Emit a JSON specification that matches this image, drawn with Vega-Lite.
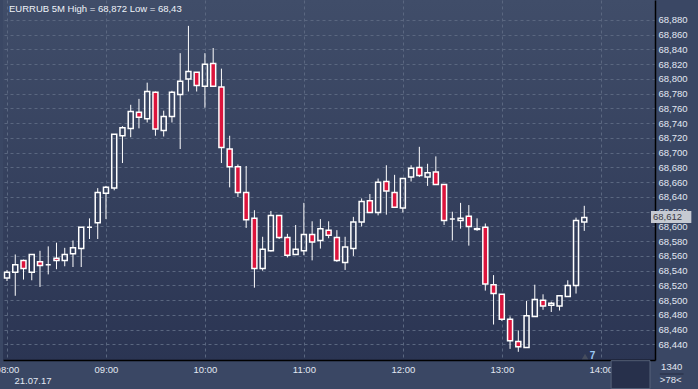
{
  "$schema": "https://vega.github.io/schema/vega-lite/v6.json",
  "width": 652,
  "height": 360,
  "autosize": {"type": "none"},
  "padding": {"left": 3, "top": 0, "right": 43, "bottom": 29},
  "background": "#3a4764",
  "config": {
    "view": {"stroke": null, "fill": {"gradient": "linear", "x1": 0, "y1": 0, "x2": 0, "y2": 1, "stops": [{"offset": 0, "color": "#404d69"}, {"offset": 1, "color": "#2b3553"}]}},
    "font": "Liberation Sans"
  },
  "data": {
    "values": [
      {"t": "08:00", "o": 68.530, "h": 68.541, "l": 68.526, "c": 68.538},
      {"t": "08:05", "o": 68.538, "h": 68.562, "l": 68.506, "c": 68.548},
      {"t": "08:10", "o": 68.554, "h": 68.555, "l": 68.528, "c": 68.543},
      {"t": "08:15", "o": 68.538, "h": 68.562, "l": 68.527, "c": 68.562},
      {"t": "08:20", "o": 68.552, "h": 68.567, "l": 68.518, "c": 68.547},
      {"t": "08:25", "o": 68.548, "h": 68.573, "l": 68.535, "c": 68.548},
      {"t": "08:30", "o": 68.557, "h": 68.578, "l": 68.542, "c": 68.554},
      {"t": "08:35", "o": 68.554, "h": 68.571, "l": 68.546, "c": 68.562},
      {"t": "08:40", "o": 68.563, "h": 68.581, "l": 68.545, "c": 68.571},
      {"t": "08:45", "o": 68.570, "h": 68.599, "l": 68.545, "c": 68.599},
      {"t": "08:50", "o": 68.599, "h": 68.611, "l": 68.583, "c": 68.599},
      {"t": "08:55", "o": 68.605, "h": 68.652, "l": 68.583, "c": 68.646},
      {"t": "09:00", "o": 68.645, "h": 68.655, "l": 68.610, "c": 68.653},
      {"t": "09:05", "o": 68.652, "h": 68.725, "l": 68.649, "c": 68.725},
      {"t": "09:10", "o": 68.723, "h": 68.736, "l": 68.686, "c": 68.734},
      {"t": "09:15", "o": 68.733, "h": 68.765, "l": 68.721, "c": 68.756},
      {"t": "09:20", "o": 68.755, "h": 68.773, "l": 68.733, "c": 68.748},
      {"t": "09:25", "o": 68.746, "h": 68.795, "l": 68.741, "c": 68.783},
      {"t": "09:30", "o": 68.782, "h": 68.783, "l": 68.723, "c": 68.732},
      {"t": "09:35", "o": 68.730, "h": 68.757, "l": 68.722, "c": 68.749},
      {"t": "09:40", "o": 68.749, "h": 68.784, "l": 68.741, "c": 68.782},
      {"t": "09:45", "o": 68.779, "h": 68.835, "l": 68.705, "c": 68.797},
      {"t": "09:50", "o": 68.800, "h": 68.872, "l": 68.783, "c": 68.810},
      {"t": "09:55", "o": 68.809, "h": 68.809, "l": 68.783, "c": 68.791},
      {"t": "10:00", "o": 68.790, "h": 68.835, "l": 68.761, "c": 68.820},
      {"t": "10:05", "o": 68.821, "h": 68.842, "l": 68.790, "c": 68.790},
      {"t": "10:10", "o": 68.789, "h": 68.814, "l": 68.686, "c": 68.707},
      {"t": "10:15", "o": 68.705, "h": 68.723, "l": 68.653, "c": 68.681},
      {"t": "10:20", "o": 68.681, "h": 68.684, "l": 68.640, "c": 68.646},
      {"t": "10:25", "o": 68.646, "h": 68.682, "l": 68.598, "c": 68.609},
      {"t": "10:30", "o": 68.611, "h": 68.622, "l": 68.517, "c": 68.543},
      {"t": "10:35", "o": 68.543, "h": 68.586, "l": 68.540, "c": 68.569},
      {"t": "10:40", "o": 68.567, "h": 68.621, "l": 68.566, "c": 68.615},
      {"t": "10:45", "o": 68.615, "h": 68.615, "l": 68.583, "c": 68.585},
      {"t": "10:50", "o": 68.585, "h": 68.590, "l": 68.558, "c": 68.561},
      {"t": "10:55", "o": 68.562, "h": 68.602, "l": 68.562, "c": 68.569},
      {"t": "11:00", "o": 68.567, "h": 68.632, "l": 68.561, "c": 68.589},
      {"t": "11:05", "o": 68.589, "h": 68.607, "l": 68.554, "c": 68.579},
      {"t": "11:10", "o": 68.581, "h": 68.610, "l": 68.570, "c": 68.597},
      {"t": "11:15", "o": 68.595, "h": 68.607, "l": 68.584, "c": 68.588},
      {"t": "11:20", "o": 68.585, "h": 68.595, "l": 68.552, "c": 68.554},
      {"t": "11:25", "o": 68.551, "h": 68.586, "l": 68.541, "c": 68.572},
      {"t": "11:30", "o": 68.570, "h": 68.613, "l": 68.560, "c": 68.606},
      {"t": "11:35", "o": 68.606, "h": 68.638, "l": 68.600, "c": 68.634},
      {"t": "11:40", "o": 68.635, "h": 68.644, "l": 68.619, "c": 68.619},
      {"t": "11:45", "o": 68.619, "h": 68.665, "l": 68.615, "c": 68.660},
      {"t": "11:50", "o": 68.661, "h": 68.683, "l": 68.616, "c": 68.648},
      {"t": "11:55", "o": 68.646, "h": 68.670, "l": 68.626, "c": 68.626},
      {"t": "12:00", "o": 68.625, "h": 68.665, "l": 68.619, "c": 68.665},
      {"t": "12:05", "o": 68.667, "h": 68.683, "l": 68.661, "c": 68.679},
      {"t": "12:10", "o": 68.680, "h": 68.708, "l": 68.667, "c": 68.669},
      {"t": "12:15", "o": 68.667, "h": 68.685, "l": 68.655, "c": 68.673},
      {"t": "12:20", "o": 68.674, "h": 68.695, "l": 68.657, "c": 68.657},
      {"t": "12:25", "o": 68.657, "h": 68.657, "l": 68.602, "c": 68.608},
      {"t": "12:30", "o": 68.610, "h": 68.620, "l": 68.581, "c": 68.610},
      {"t": "12:35", "o": 68.608, "h": 68.632, "l": 68.597, "c": 68.611},
      {"t": "12:40", "o": 68.614, "h": 68.629, "l": 68.574, "c": 68.600},
      {"t": "12:45", "o": 68.597, "h": 68.611, "l": 68.594, "c": 68.596},
      {"t": "12:50", "o": 68.599, "h": 68.604, "l": 68.513, "c": 68.522},
      {"t": "12:55", "o": 68.521, "h": 68.534, "l": 68.467, "c": 68.509},
      {"t": "13:00", "o": 68.508, "h": 68.508, "l": 68.472, "c": 68.474},
      {"t": "13:05", "o": 68.474, "h": 68.478, "l": 68.434, "c": 68.445},
      {"t": "13:10", "o": 68.444, "h": 68.459, "l": 68.430, "c": 68.437},
      {"t": "13:15", "o": 68.436, "h": 68.499, "l": 68.436, "c": 68.479},
      {"t": "13:20", "o": 68.478, "h": 68.521, "l": 68.478, "c": 68.501},
      {"t": "13:25", "o": 68.500, "h": 68.508, "l": 68.487, "c": 68.492},
      {"t": "13:30", "o": 68.493, "h": 68.498, "l": 68.484, "c": 68.496},
      {"t": "13:35", "o": 68.492, "h": 68.506, "l": 68.486, "c": 68.506},
      {"t": "13:40", "o": 68.505, "h": 68.527, "l": 68.505, "c": 68.520},
      {"t": "13:45", "o": 68.520, "h": 68.612, "l": 68.509, "c": 68.608},
      {"t": "13:50", "o": 68.606, "h": 68.628, "l": 68.594, "c": 68.612}
    ],
    "format": {"parse": {"t": "utc:'%H:%M'"}}
  },
  "transform": [
    {"calculate": "max(datum.o, datum.c)", "as": "top"},
    {"calculate": "min(datum.o, datum.c)", "as": "bot"}
  ],
  "layer": [
    {
      "mark": {"type": "rule", "color": "#ffffff", "strokeWidth": 1, "clip": true},
      "encoding": {
        "x": {
          "field": "t", "type": "temporal",
          "scale": {"type": "utc", "domain": [
            {"year": 1900, "month": 1, "date": 1, "hours": 8, "minutes": 0, "seconds": 36, "utc": true},
            {"year": 1900, "month": 1, "date": 1, "hours": 14, "minutes": 29, "seconds": 51, "utc": true}
          ]},
          "axis": {
            "orient": "bottom",
            "values": [
              {"year": 1900, "month": 1, "date": 1, "hours": 8, "utc": true},
              {"year": 1900, "month": 1, "date": 1, "hours": 9, "utc": true},
              {"year": 1900, "month": 1, "date": 1, "hours": 10, "utc": true},
              {"year": 1900, "month": 1, "date": 1, "hours": 11, "utc": true},
              {"year": 1900, "month": 1, "date": 1, "hours": 12, "utc": true},
              {"year": 1900, "month": 1, "date": 1, "hours": 13, "utc": true},
              {"year": 1900, "month": 1, "date": 1, "hours": 14, "utc": true}
            ],
            "tickCount": 20,
            "labelExpr": "utcFormat(datum.value, '%H:%M')",
            "ticks": false, "labelPadding": 4, "labelFontSize": 9.5, "labelFont": "Liberation Sans", "labelColor": "#e2e8f2",
            "labelFlush": false, "labelOverlap": false, "labelBound": false,
            "domainColor": "#000000", "domainWidth": 1.5,
            "grid": true, "gridColor": "#5a6780", "gridDash": [3, 3], "gridWidth": 1,
            "title": "21.07.17", "titleAnchor": "start", "titleAlign": "left", "titleBaseline": "alphabetic",
            "titleX": 11, "titleY": 23.5, "titleFontSize": 9.5, "titleFontWeight": "normal", "titleFont": "Liberation Sans", "titleColor": "#e2e8f2"
          }
        },
        "y": {
          "field": "h", "type": "quantitative",
          "scale": {"domain": [68.4189, 68.9071], "zero": false, "nice": false},
          "axis": {
            "orient": "right",
            "values": [68.44, 68.46, 68.48, 68.5, 68.52, 68.54, 68.56, 68.58, 68.6, 68.62, 68.64, 68.66, 68.68, 68.7, 68.72, 68.74, 68.76, 68.78, 68.8, 68.82, 68.84, 68.86, 68.88],
            "tickCount": 40,
            "labelExpr": "replace(format(datum.value, '.3f'), '.', ',')",
            "ticks": false, "labelPadding": 3, "labelFontSize": 9.5, "labelFont": "Liberation Sans", "labelColor": "#e2e8f2",
            "labelOverlap": false, "labelFlush": false, "labelBound": false,
            "domainColor": "#000000", "domainWidth": 1.5,
            "grid": true, "gridColor": "#5a6780", "gridDash": [3, 3], "gridWidth": 1,
            "title": null
          }
        },
        "y2": {"field": "top"}
      }
    },
    {
      "mark": {"type": "rule", "color": "#ffffff", "strokeWidth": 1, "clip": true},
      "encoding": {
        "x": {"field": "t", "type": "temporal"},
        "y": {"field": "bot", "type": "quantitative"},
        "y2": {"field": "l"}
      }
    },
    {
      "mark": {"type": "bar", "width": 5, "stroke": "#ffffff", "strokeWidth": 1.5, "clip": true},
      "encoding": {
        "x": {"field": "t", "type": "temporal"},
        "y": {"field": "o", "type": "quantitative"},
        "y2": {"field": "c"},
        "fill": {"condition": {"test": "datum.c < datum.o", "value": "#dc143c"}, "value": "transparent"}
      }
    },
    {
      "data": {"values": [{}]},
      "mark": {"type": "text", "text": "EURRUB 5M High = 68,872 Low = 68,43", "fontSize": 9.5, "font": "Liberation Sans", "color": "#eef2f8", "align": "left", "baseline": "alphabetic", "dx": 1, "clip": false},
      "encoding": {
        "x": {"datum": {"year": 1900, "month": 1, "date": 1, "hours": 8, "minutes": 0, "seconds": 36, "utc": true}, "type": "temporal"},
        "y": {"datum": 68.8915, "type": "quantitative"}
      }
    },
    {
      "data": {"values": [{}]},
      "mark": {"type": "rect", "fill": "#27304b", "stroke": "#56627a", "strokeWidth": 1, "clip": false},
      "encoding": {
        "x": {"datum": {"year": 1900, "month": 1, "date": 1, "hours": 14, "minutes": 6, "seconds": 16, "utc": true}, "type": "temporal"},
        "x2": {"datum": {"year": 1900, "month": 1, "date": 1, "hours": 14, "minutes": 29, "seconds": 51, "utc": true}},
        "y": {"datum": 68.4180, "type": "quantitative"},
        "y2": {"datum": 68.3800}
      }
    },
    {
      "data": {"values": [{}]},
      "mark": {"type": "point", "shape": "triangle-up", "filled": true, "size": 40, "fill": "#464d5e", "opacity": 1, "clip": false},
      "encoding": {
        "x": {"datum": {"year": 1900, "month": 1, "date": 1, "hours": 13, "minutes": 50, "seconds": 28, "utc": true}, "type": "temporal"},
        "y": {"datum": 68.4236, "type": "quantitative"}
      }
    },
    {
      "data": {"values": [{}]},
      "mark": {"type": "text", "text": "7", "fontSize": 10, "fontWeight": "bold", "font": "Liberation Sans", "color": "#9ccaf5", "align": "center", "baseline": "middle", "clip": false},
      "encoding": {
        "x": {"datum": {"year": 1900, "month": 1, "date": 1, "hours": 13, "minutes": 55, "seconds": 3, "utc": true}, "type": "temporal"},
        "y": {"datum": 68.4248, "type": "quantitative"}
      }
    },
    {
      "data": {"values": [{}]},
      "mark": {"type": "rect", "fill": "#c6cad2", "clip": false},
      "encoding": {
        "x": {"datum": {"year": 1900, "month": 1, "date": 1, "hours": 14, "minutes": 30, "seconds": 27, "utc": true}, "type": "temporal"},
        "x2": {"datum": {"year": 1900, "month": 1, "date": 1, "hours": 14, "minutes": 54, "seconds": 55, "utc": true}},
        "y": {"datum": 68.6210, "type": "quantitative"},
        "y2": {"datum": 68.6047}
      }
    },
    {
      "data": {"values": [{}]},
      "mark": {"type": "text", "text": "68,612", "fontSize": 9.5, "font": "Liberation Sans", "color": "#3a3a44", "align": "left", "baseline": "middle", "clip": false},
      "encoding": {
        "x": {"datum": {"year": 1900, "month": 1, "date": 1, "hours": 14, "minutes": 31, "seconds": 39, "utc": true}, "type": "temporal"},
        "y": {"datum": 68.6128, "type": "quantitative"}
      }
    },
    {
      "data": {"values": [{}]},
      "mark": {"type": "text", "text": "1340", "fontSize": 9.5, "font": "Liberation Sans", "color": "#e2e8f2", "align": "center", "baseline": "middle", "clip": false},
      "encoding": {
        "x": {"datum": {"year": 1900, "month": 1, "date": 1, "hours": 14, "minutes": 42, "seconds": 59, "utc": true}, "type": "temporal"},
        "y": {"datum": 68.4090, "type": "quantitative"}
      }
    },
    {
      "data": {"values": [{}]},
      "mark": {"type": "rule", "color": "#252d42", "strokeWidth": 1, "clip": false},
      "encoding": {
        "x": {"datum": {"year": 1900, "month": 1, "date": 1, "hours": 14, "minutes": 35, "seconds": 50, "utc": true}, "type": "temporal"},
        "x2": {"datum": {"year": 1900, "month": 1, "date": 1, "hours": 14, "minutes": 50, "seconds": 10, "utc": true}},
        "y": {"datum": 68.3999, "type": "quantitative"}
      }
    },
    {
      "data": {"values": [{}]},
      "mark": {"type": "text", "text": ">78<", "fontSize": 9.5, "font": "Liberation Sans", "color": "#e2e8f2", "align": "center", "baseline": "middle", "clip": false},
      "encoding": {
        "x": {"datum": {"year": 1900, "month": 1, "date": 1, "hours": 14, "minutes": 42, "seconds": 23, "utc": true}, "type": "temporal"},
        "y": {"datum": 68.3918, "type": "quantitative"}
      }
    }
  ]
}
